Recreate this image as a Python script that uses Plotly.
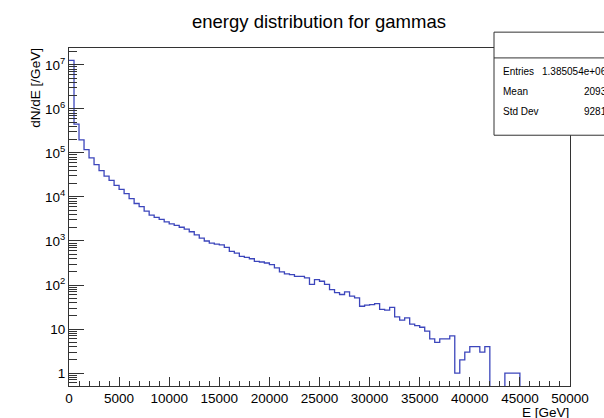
import plotly.graph_objects as go

# ---- data ----
bin_width = 500.0          # GeV
x_min, x_max = 0.0, 50000.0
counts = [
    1.26e7, 4.5e5, 1.98e5, 1.19e5, 7.7e4, 5.4e4, 3.96e4, 2.97e4, 2.38e4, 1.83e4,
    1.49e4, 1.19e4, 9.2e3, 7.1e3, 6.0e3, 4.76e3, 3.87e3, 3.43e3, 3.10e3, 2.72e3,
    2.45e3, 2.27e3, 2.05e3, 1.85e3, 1.62e3, 1.37e3, 1.16e3, 1.0e3, 892, 847,
    817, 714, 580, 531, 448, 425, 395, 345, 333, 316,
    290, 244, 198, 179, 172, 158, 158, 145, 103, 133,
    122, 103, 79, 67, 61, 70, 56, 51, 33, 35,
    36, 38, 28, 27, 31, 19, 16, 18, 13, 12,
    11, 9, 6, 5, 6, 6, 7, 1, 2, 3,
    4, 4, 3, 4, 0, 0, 0, 1, 1, 1,
    0, 0, 0, 0, 0, 0, 0, 0, 0, 0,
]
x_major_step = 5000
x_minor_step = 1000
y_tick_vals = [1, 10, 1e2, 1e3, 1e4, 1e5, 1e6, 1e7]
y_tick_text = ["1", "10", "10<sup>2</sup>", "10<sup>3</sup>", "10<sup>4</sup>",
               "10<sup>5</sup>", "10<sup>6</sup>", "10<sup>7</sup>"]
stats_labels = ["Entries", "Mean", "Std Dev"]
stats_values = ["1.385054e+06", "2093", "9281"]
title_text = "energy distribution for gammas"
x_title = "E [GeV]"
y_title = "dN/dE [/GeV]"

# ---- layout geometry (pixels) ----
W, H = 604, 418
L, R, T, B = 69, 570, 48, 389
y_log_range = [-0.2926, 7.382]
FONT = "Liberation Sans, Arial, Helvetica, sans-serif"
AX = "#333333"


def px_x(p):
    return (p - L) / (R - L)


def px_y(p):
    return (B - p) / (B - T)


n_bins = len(counts)
edges = [x_min + i * bin_width for i in range(n_bins + 1)]
floor = 10 ** (y_log_range[0] - 2)
ys = [c if c > 0 else floor for c in counts]
ys = ys + [ys[-1]]

# log minor tick positions (2..9 x 10^n)
minor_y = [m * 10 ** e for e in range(-1, 8) for m in range(2, 10)]

fig = go.Figure()
fig.add_trace(go.Scatter(
    x=edges, y=ys, mode="lines", line_shape="hv",
    line=dict(color="#3c46bc", width=1.3), hoverinfo="skip", showlegend=False,
))

fig.update_layout(
    width=W, height=H,
    margin=dict(l=L, r=W - R, t=T, b=H - B, pad=0),
    paper_bgcolor="white", plot_bgcolor="white",
    font=dict(family=FONT, color="black"),
    title=dict(text=title_text, x=319 / W, y=1 - 22 / H, xref="container", yref="container",
               xanchor="center", yanchor="middle", font=dict(size=18.5, family=FONT, color="black")),
    xaxis=dict(
        range=[x_min, x_max], showgrid=False, zeroline=False,
        showline=True, mirror=True, linecolor=AX, linewidth=1,
        tickmode="linear", tick0=0, dtick=x_major_step, tickformat="d",
        ticks="inside", ticklen=9, tickwidth=1, tickcolor=AX,
        tickfont=dict(size=13.5, family=FONT, color="black"),
        minor=dict(tickmode="linear", tick0=0, dtick=x_minor_step, ticks="inside", ticklen=5,
                   tickwidth=1, tickcolor=AX, showgrid=False),
    ),
    yaxis=dict(
        type="log", range=y_log_range, showgrid=False, zeroline=False,
        showline=True, mirror=True, linecolor=AX, linewidth=1,
        tickmode="array", tickvals=y_tick_vals, ticktext=y_tick_text,
        ticks="inside", ticklen=15, tickwidth=1, tickcolor=AX,
        tickfont=dict(size=13.5, family=FONT, color="black"),
        minor=dict(tickmode="array", tickvals=minor_y, ticks="inside", ticklen=8,
                   tickwidth=1, tickcolor=AX, showgrid=False),
    ),
)

# axis titles (ROOT style: aligned to axis end)
fig.add_annotation(text=y_title, xref="paper", yref="paper", x=px_x(36), y=px_y(88),
                   xanchor="center", yanchor="middle", textangle=-90, showarrow=False,
                   font=dict(size=13.5, family=FONT, color="black"))
fig.add_annotation(text=x_title, xref="paper", yref="paper", x=px_x(571), y=px_y(415.5),
                   xanchor="right", yanchor="middle", showarrow=False,
                   font=dict(size=13.5, family=FONT, color="black"))

# stats box
fig.add_shape(type="rect", xref="paper", yref="paper", x0=px_x(494), x1=px_x(625),
              y0=px_y(136), y1=px_y(32), fillcolor="white", line=dict(color=AX, width=1),
              layer="above")
fig.add_shape(type="line", xref="paper", yref="paper", x0=px_x(494), x1=px_x(625),
              y0=px_y(58), y1=px_y(58), line=dict(color=AX, width=1), layer="above")
for i, (lab, val) in enumerate(zip(stats_labels, stats_values)):
    yy = 72 + 20 * i
    fig.add_annotation(text=lab, xref="paper", yref="paper", x=px_x(501), y=px_y(yy),
                       xanchor="left", yanchor="middle", showarrow=False,
                       font=dict(size=10, family=FONT, color="black"))
    fig.add_annotation(text=val, xref="paper", yref="paper", x=px_x(609), y=px_y(yy),
                       xanchor="right", yanchor="middle", showarrow=False,
                       font=dict(size=10, family=FONT, color="black"))

fig.write_html("out.html")
